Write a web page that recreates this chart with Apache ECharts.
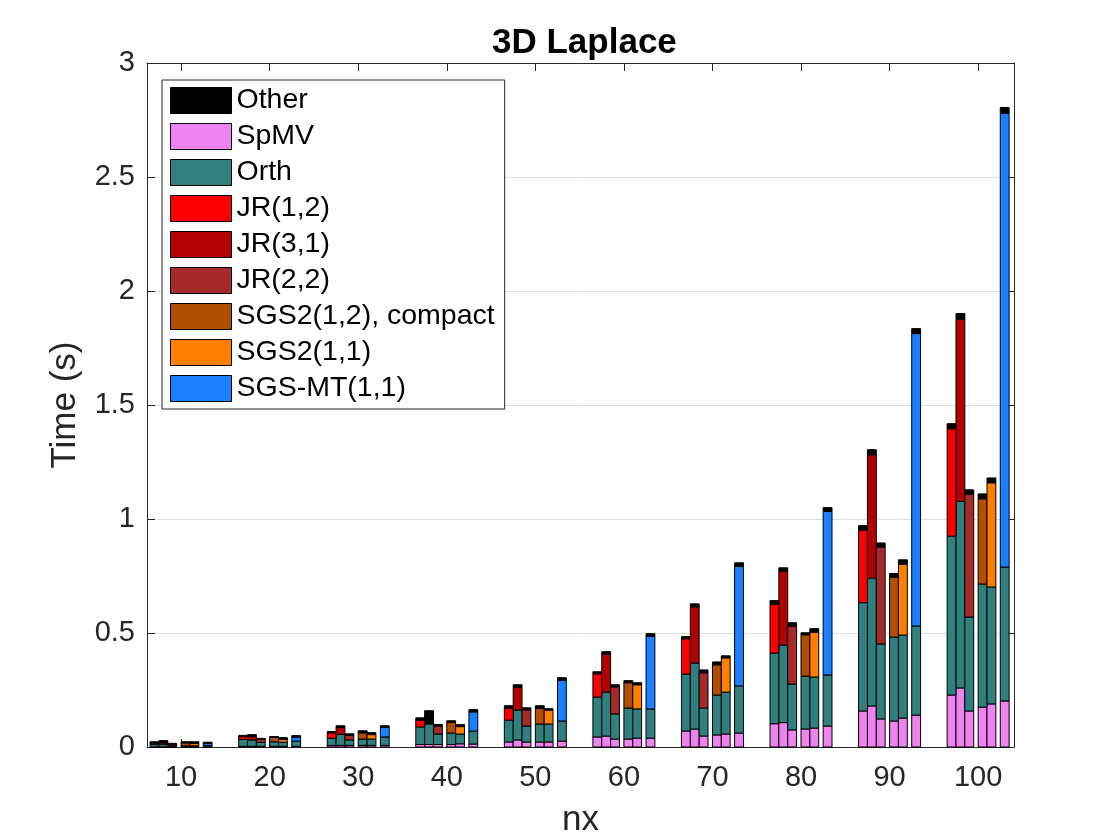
<!DOCTYPE html>
<html><head><meta charset="utf-8">
<script src="https://cdn.jsdelivr.net/npm/echarts@6/dist/echarts.min.js"></script>
<style>html,body{margin:0;padding:0;background:#fff}#c{width:1120px;height:840px}</style>
</head><body><div id="c"></div>
<script>
// ---------- data ----------
const nx = [10, 20, 30, 40, 50, 60, 70, 80, 90, 100];
const methods = ['JR(1,2)', 'JR(3,1)', 'JR(2,2)', 'SGS2(1,2), compact', 'SGS2(1,1)', 'SGS-MT(1,1)'];
const yTicks = [0, 0.5, 1, 1.5, 2, 2.5, 3];
// rows follow `methods`, columns follow `nx` (seconds)
const spmv = [
  [0.001, 0.003, 0.007, 0.011, 0.022, 0.044, 0.070, 0.102, 0.158, 0.228],
  [0.001, 0.003, 0.007, 0.011, 0.031, 0.048, 0.079, 0.107, 0.180, 0.259],
  [0.001, 0.003, 0.007, 0.011, 0.022, 0.035, 0.048, 0.075, 0.123, 0.158],
  [0.001, 0.003, 0.007, 0.011, 0.022, 0.035, 0.053, 0.079, 0.114, 0.175],
  [0.001, 0.003, 0.007, 0.014, 0.022, 0.039, 0.057, 0.083, 0.127, 0.189],
  [0.001, 0.003, 0.007, 0.013, 0.026, 0.039, 0.061, 0.092, 0.140, 0.202]
];
const orth = [
  [0.010, 0.030, 0.031, 0.077, 0.096, 0.175, 0.250, 0.310, 0.475, 0.697],
  [0.010, 0.028, 0.048, 0.090, 0.131, 0.193, 0.289, 0.340, 0.561, 0.818],
  [0.004, 0.017, 0.024, 0.046, 0.070, 0.110, 0.123, 0.201, 0.329, 0.412],
  [0.004, 0.020, 0.028, 0.050, 0.079, 0.136, 0.175, 0.232, 0.368, 0.540],
  [0.004, 0.018, 0.028, 0.043, 0.079, 0.128, 0.184, 0.224, 0.364, 0.513],
  [0.005, 0.023, 0.037, 0.057, 0.088, 0.128, 0.207, 0.224, 0.391, 0.587]
];
const smoother = [
  [0.002, 0.012, 0.023, 0.029, 0.051, 0.101, 0.154, 0.213, 0.317, 0.470],
  [0.006, 0.014, 0.030, 0.002, 0.099, 0.165, 0.246, 0.323, 0.540, 0.799],
  [0.005, 0.013, 0.020, 0.033, 0.070, 0.118, 0.154, 0.253, 0.424, 0.538],
  [0.012, 0.019, 0.026, 0.046, 0.068, 0.110, 0.132, 0.180, 0.262, 0.373],
  [0.010, 0.012, 0.019, 0.032, 0.060, 0.105, 0.149, 0.196, 0.310, 0.456],
  [0.009, 0.016, 0.042, 0.083, 0.178, 0.318, 0.524, 0.717, 1.282, 1.990]
];
const other = [
  [0.010, 0.006, 0.007, 0.011, 0.012, 0.010, 0.010, 0.017, 0.021, 0.023],
  [0.011, 0.009, 0.008, 0.056, 0.012, 0.012, 0.014, 0.016, 0.023, 0.025],
  [0.006, 0.005, 0.007, 0.009, 0.010, 0.010, 0.013, 0.016, 0.019, 0.020],
  [0.006, 0.004, 0.010, 0.008, 0.012, 0.010, 0.013, 0.010, 0.017, 0.022],
  [0.008, 0.008, 0.009, 0.009, 0.007, 0.010, 0.010, 0.016, 0.020, 0.022],
  [0.006, 0.008, 0.007, 0.011, 0.012, 0.012, 0.016, 0.017, 0.022, 0.026]
];

// ---------- layout / style ----------
const barOffset = [-3, -2, -1, 0.5, 1.5, 3];
const barWidth = 1;
const colors = {
  'Other': '#000000', 'SpMV': '#EE82EE', 'Orth': '#318080',
  'JR(1,2)': '#FF0000', 'JR(3,1)': '#B30000', 'JR(2,2)': '#A52A2A',
  'SGS2(1,2), compact': '#B34D00', 'SGS2(1,1)': '#FF8000', 'SGS-MT(1,1)': '#1A80FF'
};
const legendOrder = ['Other', 'SpMV', 'Orth'].concat(methods);
const FONT = "'Liberation Sans', Arial, Helvetica, sans-serif";
const INK = '#262626';

const segs = {};
legendOrder.forEach(n => segs[n] = []);
methods.forEach((m, mi) => {
  nx.forEach((v, gi) => {
    const x = v + barOffset[mi];
    let b = 0;
    const parts = [['SpMV', spmv[mi][gi]], ['Orth', orth[mi][gi]], [m, smoother[mi][gi]], ['Other', other[mi][gi]]];
    parts.forEach(([name, h]) => {
      segs[name].push([x, b, b + h]);
      b += h;
    });
  });
});

function renderItem(params, api) {
  const x = api.value(0), y0 = api.value(1), y1 = api.value(2);
  const p0 = api.coord([x - barWidth / 2, y0]);
  const p1 = api.coord([x + barWidth / 2, y1]);
  return {
    type: 'rect',
    shape: { x: p0[0], y: p1[1], width: p1[0] - p0[0], height: p0[1] - p1[1] },
    style: { fill: api.visual('color'), stroke: '#000', lineWidth: 1 }
  };
}

const series = legendOrder.map(name => ({
  type: 'custom',
  name: name,
  renderItem: renderItem,
  itemStyle: { color: colors[name] },
  encode: { x: 0, y: [1, 2] },
  data: segs[name],
  animation: false
}));

const xCommon = { type: 'value', min: 6.15, max: 104.05 };
const option = {
  animation: false,
  backgroundColor: '#fff',
  title: {
    text: '3D Laplace', left: 487, top: 21,
    textStyle: { fontFamily: FONT, fontSize: 35, fontWeight: 'bold', color: '#000' }
  },
  grid: { left: 147, right: 106, top: 63, bottom: 93, containLabel: false, outerBoundsMode: 'none' },
  legend: {
    data: legendOrder, orient: 'vertical', left: 162, top: 80,
    icon: 'rect', itemWidth: 61, itemHeight: 26, itemGap: 7,
    padding: [6, 10, 6, 8],
    borderColor: INK, borderWidth: 1, backgroundColor: '#fff',
    itemStyle: { borderColor: '#000', borderWidth: 1 },
    textStyle: { fontFamily: FONT, fontSize: 28.5, color: '#000' }
  },
  xAxis: [
    Object.assign({}, xCommon, {
      position: 'bottom',
      name: 'nx', nameLocation: 'middle', nameGap: 56,
      nameTextStyle: { fontFamily: FONT, fontSize: 35, color: INK },
      axisLine: { show: true, onZero: false, lineStyle: { color: INK, width: 1 } },
      axisTick: { show: true, inside: true, length: 8, customValues: nx, lineStyle: { color: INK } },
      axisLabel: { customValues: nx, fontFamily: FONT, fontSize: 29, color: INK, margin: 16 },
      splitLine: { show: false }
    }),
    Object.assign({}, xCommon, {
      position: 'top',
      axisLine: { show: true, onZero: false, lineStyle: { color: INK, width: 1 } },
      axisTick: { show: true, inside: true, length: 8, customValues: nx, lineStyle: { color: INK } },
      axisLabel: { show: false },
      splitLine: { show: false }
    })
  ],
  yAxis: [
    {
      type: 'value', min: 0, max: 3, interval: 0.5, position: 'left',
      name: 'Time (s)', nameLocation: 'middle', nameGap: 64, nameRotate: 90,
      nameTextStyle: { fontFamily: FONT, fontSize: 35, color: INK },
      axisLine: { show: true, lineStyle: { color: INK, width: 1 } },
      axisTick: { show: true, inside: true, length: 8, lineStyle: { color: INK } },
      axisLabel: { fontFamily: FONT, fontSize: 29, color: INK, margin: 12,
        formatter: v => String(v) },
      splitLine: { show: true, lineStyle: { color: '#e0e0e0', width: 1 } }
    },
    {
      type: 'value', min: 0, max: 3, interval: 0.5, position: 'right',
      axisLine: { show: true, lineStyle: { color: INK, width: 1 } },
      axisTick: { show: true, inside: true, length: 8, lineStyle: { color: INK } },
      axisLabel: { show: false },
      splitLine: { show: false }
    }
  ],
  series: series
};

const chart = echarts.init(document.getElementById('c'), null, { renderer: 'canvas' });
chart.setOption(option);
</script>
</body></html>
